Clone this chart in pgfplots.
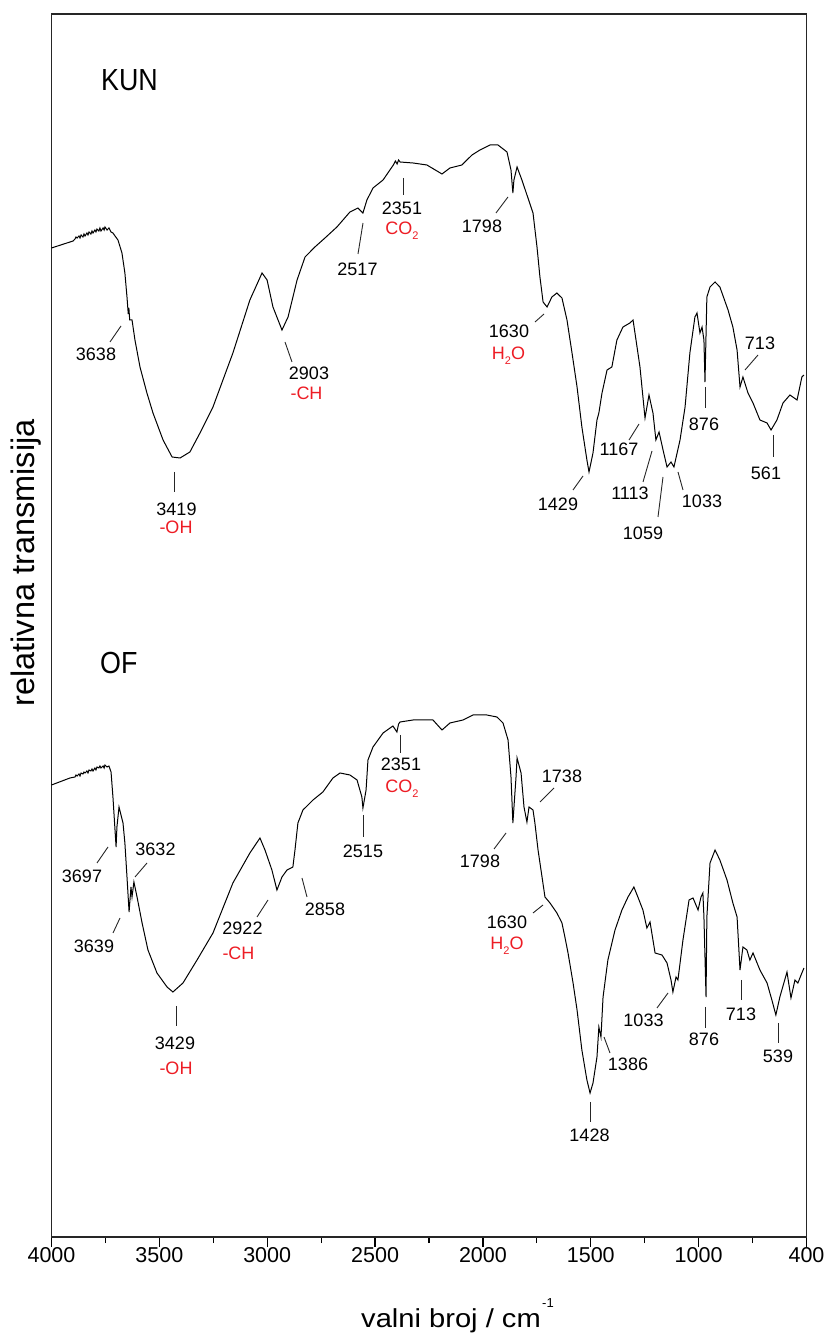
\documentclass[border=0pt]{standalone}
\usepackage{fontspec}
\setmainfont{Liberation Sans}
\newfontfamily\labfont[FakeStretch=0.88]{Liberation Sans}
\newfontfamily\xlabfont[FakeStretch=1.12]{Liberation Sans}
\usepackage{pgfplots}
\pgfplotsset{compat=1.18}
\definecolor{annred}{RGB}{237,28,36}

\begin{document}
\begin{tikzpicture}[x=1pt,y=1pt]
\begin{axis}[
  at={(0,0)}, anchor=south west,
  scale only axis, width=755pt, height=1223pt,
  xmin=400, xmax=4000, x dir=reverse,
  ymin=21, ymax=1244,
  axis line style={line width=1.3pt, black!85},
  ytick=\empty,
  xtick={4000,3485.714,2971.429,2457.143,1942.857,1428.571,914.286,400},
  xticklabels={4000,3500,3000,2500,2000,1500,1000,400},
  minor xtick={3742.857,3228.571,2714.286,2200,1685.714,1171.429,657.143},
  tick align=outside,
  xtick pos=bottom,
  major tick length=10pt, minor tick length=6pt,
  every tick/.style={line width=1.2pt, black},
  xticklabel style={font=\fontsize{21.5}{24}\selectfont, inner sep=0pt},
]
% KUN spectrum
\addplot[black, line width=1pt] coordinates {
(4000,1010) (3897,1017) (3888,1019) (3883,1021) (3878,1020) (3869,1022) (3864,1020)
(3859,1023) (3850,1021) (3845,1024) (3840,1022) (3831,1025) (3826,1023) (3821,1026)
(3812,1024) (3807,1027) (3802,1025) (3793,1028) (3788,1026) (3783,1029) (3774,1027)
(3769,1030) (3764,1027) (3754,1030) (3749,1028) (3745,1031) (3735,1028) (3726,1030)
(3716,1026) (3707,1025) (3697,1022) (3683,1018) (3664,1005) (3650,985) (3640,961)
(3634,944) (3631,950) (3627,938) (3616,938) (3602,918) (3578,891) (3545,865)
(3516,845) (3468,818) (3425,801) (3387,800) (3340,806) (3292,825) (3230,851)
(3135,905) (3054,958) (2996,985) (2972,978) (2944,951) (2901,928) (2872,941)
(2829,978) (2791,1001) (2744,1011) (2696,1020) (2639,1031) (2577,1046) (2539,1050)
(2515,1045) (2496,1058) (2467,1070) (2419,1078) (2370,1093) (2360,1097) (2352,1094)
(2345,1098) (2338,1096) (2276,1095) (2210,1093) (2138,1084) (2100,1090) (2043,1093)
(1995,1103) (1957,1108) (1909,1113) (1871,1113) (1828,1106) (1809,1088) (1800,1065)
(1795,1078) (1780,1091) (1757,1078) (1728,1060) (1704,1045) (1685,1011) (1671,981)
(1656,956) (1637,951) (1614,961) (1590,965) (1566,960) (1542,938) (1518,905)
(1494,871) (1471,831) (1447,798) (1437,786) (1418,805) (1399,838) (1390,845)
(1375,865) (1351,888) (1328,891) (1304,918) (1275,931) (1242,935) (1227,938)
(1208,911) (1194,891) (1170,840) (1151,863) (1132,845) (1118,818) (1103,826)
(1084,808) (1065,791) (1046,796) (1032,791) (1003,818) (979,851) (956,905)
(932,941) (922,945) (908,925) (898,931) (889,918) (884,876) (875,961) (860,971)
(836,976) (813,971) (774,948) (751,931) (731,908) (717,871) (703,881) (679,865)
(655,855) (622,838) (588,835) (569,828) (541,838) (512,855) (479,863) (445,858)
(422,881) (412,883)
};
% OF spectrum
\addplot[black, line width=1pt] coordinates {
(4000,473) (3912,480) (3888,481) (3883,483) (3878,482) (3869,484) (3864,482)
(3859,485) (3850,484) (3845,486) (3840,485) (3831,487) (3826,485) (3821,488)
(3812,487) (3807,489) (3802,487) (3793,490) (3788,488) (3783,491) (3774,490)
(3769,492) (3764,490) (3754,492) (3749,490) (3745,493) (3735,491) (3726,492)
(3716,486) (3707,461) (3692,411) (3688,431) (3678,451) (3659,435) (3650,415)
(3640,381) (3630,346) (3621,371) (3616,361) (3607,376) (3592,361) (3568,335)
(3540,308) (3497,285) (3449,271) (3421,266) (3373,275) (3306,298) (3230,325)
(3135,375) (3054,405) (3006,420) (2982,408) (2949,388) (2925,368) (2901,381)
(2877,388) (2849,391) (2839,408) (2825,435) (2801,448) (2753,458) (2706,466)
(2658,480) (2624,485) (2577,483) (2543,478) (2520,461) (2515,450) (2500,468)
(2491,498) (2467,511) (2419,525) (2372,532) (2353,526) (2345,534) (2338,536)
(2276,538) (2229,538) (2181,538) (2138,528) (2100,535) (2038,538) (1990,543)
(1924,543) (1876,541) (1847,535) (1823,518) (1809,481) (1800,435) (1785,481)
(1780,500) (1761,485) (1747,451) (1733,436) (1723,451) (1704,448) (1695,435)
(1680,408) (1661,381) (1647,361) (1623,355) (1590,345) (1566,335) (1552,321)
(1537,305) (1513,275) (1494,248) (1471,208) (1447,178) (1432,165) (1418,175)
(1399,201) (1390,231) (1380,221) (1370,261) (1347,298) (1313,328) (1280,348)
(1251,361) (1223,371) (1204,361) (1180,348) (1161,330) (1146,336) (1122,305)
(1089,303) (1065,295) (1046,278) (1037,266) (1022,281) (1013,278) (989,318)
(960,358) (941,360) (917,348) (903,361) (894,365) (889,341) (879,261) (875,341)
(860,395) (836,408) (813,398) (779,378) (751,355) (731,341) (717,288) (703,311)
(684,308) (670,298) (655,305) (622,288) (588,275) (565,258) (546,243) (527,261)
(493,286) (474,260) (455,278) (441,275) (422,285) (412,290)
};
\end{axis}
% y label (outside flipped scope)
\node[rotate=90, anchor=base, inner sep=0pt, font=\fontsize{32.5}{36}\selectfont] at (-16.5,674) {relativna transmisija};
\begin{scope}[shift={(-51.5,1237)}, yscale=-1,
  ann/.style={anchor=north, inner sep=0pt, font=\fontsize{18}{20}\selectfont},
  rd/.style={ann, text=annred},
  ld/.style={line width=0.9pt, black!85}]
% x label
\node[anchor=base, inner sep=0pt, font=\xlabfont\fontsize{26}{30}\selectfont] at (451,1327) {valni broj / cm};
\node[anchor=base west, inner sep=0pt, font=\fontsize{13}{15}\selectfont] at (542,1307) {-1};
% sample labels
\node[anchor=north west, inner sep=0pt, font=\labfont\fontsize{30.5}{34}\selectfont] at (101,69) {KUN};
\node[anchor=north west, inner sep=0pt, font=\labfont\fontsize{30.5}{34}\selectfont] at (100,652) {OF};
% KUN annotations
\node[ann] at (96,348) {3638}; \draw[ld] (110,342) -- (121,326);
\node[ann] at (176.5,503) {3419}; \draw[ld] (174,472) -- (174,492);
\node[rd] at (176,521) {-OH};
\node[ann] at (309,367) {2903}; \draw[ld] (285,342) -- (292,362);
\node[rd] at (306.5,387) {-CH};
\node[ann] at (357.5,263) {2517}; \draw[ld] (363,223) -- (358,254);
\node[ann] at (402,202) {2351}; \draw[ld] (403,178) -- (403,195);
\node[rd] at (402,222) {CO\raisebox{-5pt}{\fontsize{11}{11}\selectfont 2}};
\node[ann] at (482,220) {1798}; \draw[ld] (496,213) -- (508,197);
\node[ann] at (509,325) {1630}; \draw[ld] (535,322) -- (544,314);
\node[rd] at (508.5,347) {H\raisebox{-5pt}{\fontsize{11}{11}\selectfont 2}O};
\node[ann] at (558,498) {1429}; \draw[ld] (573,490) -- (583,476);
\node[ann] at (619,443) {1167}; \draw[ld] (629,440) -- (639,424);
\node[ann] at (630,487) {1113}; \draw[ld] (643,482) -- (652,451);
\node[ann] at (643,527) {1059}; \draw[ld] (658,517) -- (663,477);
\node[ann] at (702,495) {1033}; \draw[ld] (683,490) -- (678,472);
\node[ann] at (704,418) {876}; \draw[ld] (705,387) -- (705,408);
\node[ann] at (760,337) {713}; \draw[ld] (745,370) -- (758,355);
\node[ann] at (766,467) {561}; \draw[ld] (773,435) -- (773,457);
% OF annotations
\node[ann] at (82,870) {3697}; \draw[ld] (97,863) -- (108,847);
\node[ann] at (155.5,843) {3632}; \draw[ld] (135,877) -- (147,863);
\node[ann] at (94,940) {3639}; \draw[ld] (113,933) -- (120,918);
\node[ann] at (175,1037) {3429}; \draw[ld] (176,1006) -- (176,1026);
\node[rd] at (176,1062) {-OH};
\node[ann] at (242.5,922) {2922}; \draw[ld] (257,917) -- (268,900);
\node[rd] at (238.5,947) {-CH};
\node[ann] at (325,903) {2858}; \draw[ld] (302,878) -- (307,897);
\node[ann] at (363,845) {2515}; \draw[ld] (363,815) -- (363,837);
\node[ann] at (401,758) {2351}; \draw[ld] (400,735) -- (400,753);
\node[rd] at (402,780) {CO\raisebox{-5pt}{\fontsize{11}{11}\selectfont 2}};
\node[ann] at (562,770) {1738}; \draw[ld] (540,802) -- (554,788);
\node[ann] at (480,855) {1798}; \draw[ld] (494,849) -- (506,833);
\node[ann] at (507,916) {1630}; \draw[ld] (533,913) -- (543,905);
\node[rd] at (507,937) {H\raisebox{-5pt}{\fontsize{11}{11}\selectfont 2}O};
\node[ann] at (643.5,1014) {1033}; \draw[ld] (657,1008) -- (668,993);
\node[ann] at (704,1033) {876}; \draw[ld] (705,1007) -- (705,1028);
\node[ann] at (741,1008) {713}; \draw[ld] (741,980) -- (741,1000);
\node[ann] at (778,1050) {539}; \draw[ld] (778,1023) -- (778,1043);
\node[ann] at (628,1058) {1386}; \draw[ld] (604,1037) -- (610,1053);
\node[ann] at (589.5,1129) {1428}; \draw[ld] (590,1102) -- (590,1122);
\pgfresetboundingbox
\path[use as bounding box] (0,0) rectangle (830,1342);
\end{scope}
\end{tikzpicture}
\end{document}
